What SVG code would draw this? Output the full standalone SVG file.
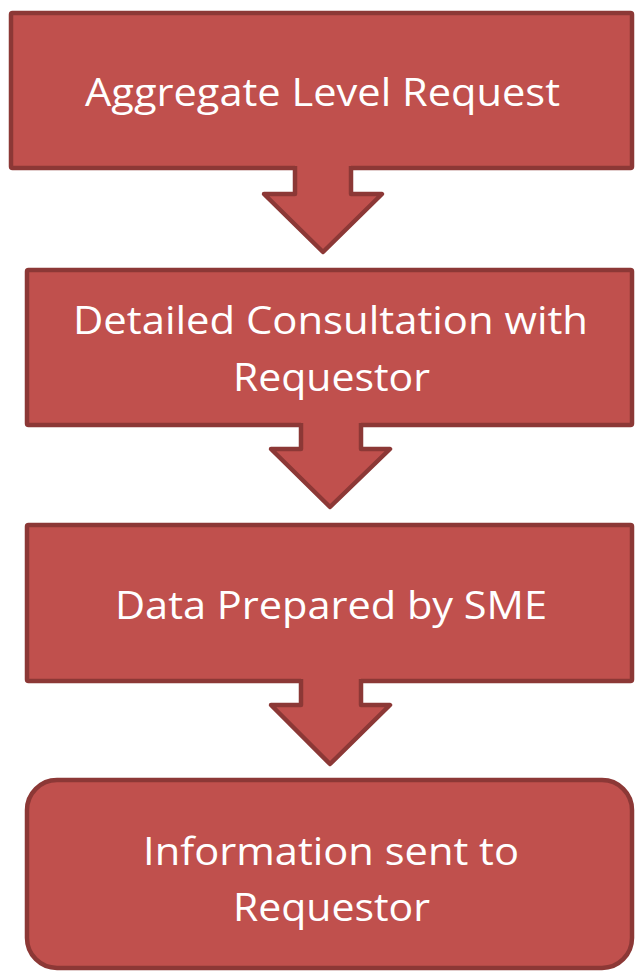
<svg xmlns="http://www.w3.org/2000/svg" width="635" height="972" viewBox="0 0 635 972">
  <style>
    .box { fill: #C0504D; stroke: #8C3836; stroke-width: 4.5; stroke-linejoin: round; }
    .afill { fill: #C0504D; stroke: none; }
    .aline { fill: none; stroke: #8C3836; stroke-width: 4.5; stroke-linejoin: round; }
    .lbl { font-family: "Open Sans", "Noto Sans", "Liberation Sans", sans-serif; font-size: 39px; fill: #FFFFFF; text-anchor: middle; }
  </style>
  <rect width="635" height="972" fill="#FFFFFF"/>
  <g id="node1">
    <rect class="box" x="11" y="13" width="621" height="155" rx="1.5"/>
    <text class="lbl" x="322.5" y="106" textLength="475" lengthAdjust="spacingAndGlyphs">Aggregate Level Request</text>
  </g>
  <g id="node2">
    <rect class="box" x="27" y="270" width="605" height="155" rx="1.5"/>
    <text class="lbl" x="330.5" y="334" textLength="515" lengthAdjust="spacingAndGlyphs">Detailed Consultation with</text>
    <text class="lbl" x="331.5" y="391" textLength="197" lengthAdjust="spacingAndGlyphs">Requestor</text>
  </g>
  <g id="node3">
    <rect class="box" x="27" y="525" width="605" height="156" rx="1.5"/>
    <text class="lbl" x="331" y="619" textLength="432" lengthAdjust="spacingAndGlyphs">Data Prepared by SME</text>
  </g>
  <g id="node4">
    <rect class="box" x="27" y="780" width="605" height="188" rx="30"/>
    <text class="lbl" x="331" y="865" textLength="376" lengthAdjust="spacingAndGlyphs">Information sent to</text>
    <text class="lbl" x="331.5" y="921" textLength="197" lengthAdjust="spacingAndGlyphs">Requestor</text>
  </g>
  <g id="connectors">
    <g id="arrow1">
      <polygon class="afill" points="295,165 295,194 264,194 323,252 382,194 351,194 351,165"/>
      <polyline class="aline" points="295,166 295,194 264,194 323,252 382,194 351,194 351,166"/>
    </g>
    <g id="arrow2">
      <polygon class="afill" points="301,422 301,449 271,449 330,507 390,449 361,449 361,422"/>
      <polyline class="aline" points="301,423 301,449 271,449 330,507 390,449 361,449 361,423"/>
    </g>
    <g id="arrow3">
      <polygon class="afill" points="301,678 301,705 271,705 330,764 390,705 361,705 361,678"/>
      <polyline class="aline" points="301,679 301,705 271,705 330,764 390,705 361,705 361,679"/>
    </g>
  </g>
</svg>
